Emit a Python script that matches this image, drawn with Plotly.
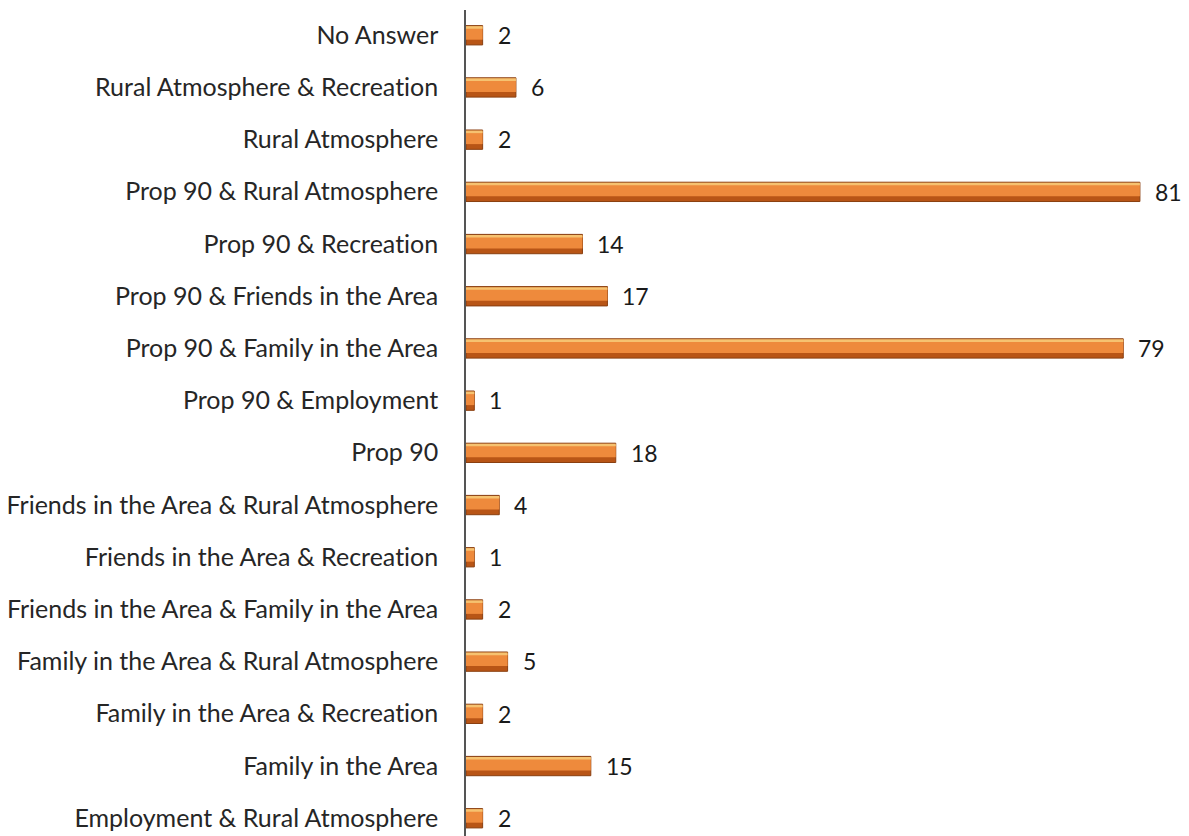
import plotly.graph_objects as go

# Survey responses, listed bottom-to-top as they appear on the axis
categories = [
    "Employment & Rural Atmosphere",
    "Family in the Area",
    "Family in the Area & Recreation",
    "Family in the Area & Rural Atmosphere",
    "Friends in the Area & Family in the Area",
    "Friends in the Area & Recreation",
    "Friends in the Area & Rural Atmosphere",
    "Prop 90",
    "Prop 90 & Employment",
    "Prop 90 & Family in the Area",
    "Prop 90 & Friends in the Area",
    "Prop 90 & Recreation",
    "Prop 90 & Rural Atmosphere",
    "Rural Atmosphere",
    "Rural Atmosphere & Recreation",
    "No Answer",
]
counts = [2, 15, 2, 5, 2, 1, 4, 18, 1, 79, 17, 14, 81, 2, 6, 2]

FONT = "Lato"

# keep "t" and "i" as separate glyphs (no ligature) in the axis labels
tick_text = [c.replace("ti", "t\u200ci") for c in categories]

fig = go.Figure()
# bevelled bar look: dark base, lighter body, thin highlight along the top edge
fig.add_trace(go.Bar(
    x=counts, y=categories, orientation="h",
    width=0.37, offset=-0.19,
    marker=dict(color="#B85516", line=dict(color="#8A3F10", width=1)),
    hoverinfo="x+y",
))
fig.add_trace(go.Bar(
    x=counts, y=categories, orientation="h",
    width=0.24, offset=-0.09,
    marker=dict(color="#EE8A3C", line=dict(width=0)),
    hoverinfo="skip",
))
fig.add_trace(go.Bar(
    x=counts, y=categories, orientation="h",
    width=0.05, offset=0.12,
    marker=dict(color="#F6C270", line=dict(width=0)),
    hoverinfo="skip",
))

# value labels placed just past the end of each bar
for c, v in zip(categories, counts):
    fig.add_annotation(
        x=v, y=c, text=str(v), showarrow=False,
        xanchor="left", xshift=13,
        font=dict(family=FONT, size=23, color="#1a1a1a"),
    )

fig.update_layout(
    width=1189, height=836,
    margin=dict(l=466, r=0, t=10, b=0),
    plot_bgcolor="white", paper_bgcolor="white",
    showlegend=False,
    barmode="overlay",
    xaxis=dict(range=[0, 86.9], visible=False, showgrid=False, zeroline=False),
    yaxis=dict(
        type="category",
        categoryorder="array", categoryarray=categories,
        tickvals=categories, ticktext=tick_text,
        range=[-0.345, 15.479],
        showline=True, linecolor="#555555", linewidth=1.5,
        showgrid=False, ticks="",
        ticklabelstandoff=21,
        tickfont=dict(family=FONT, size=25, color="#262626"),
    ),
)

fig.write_html("out.html")
